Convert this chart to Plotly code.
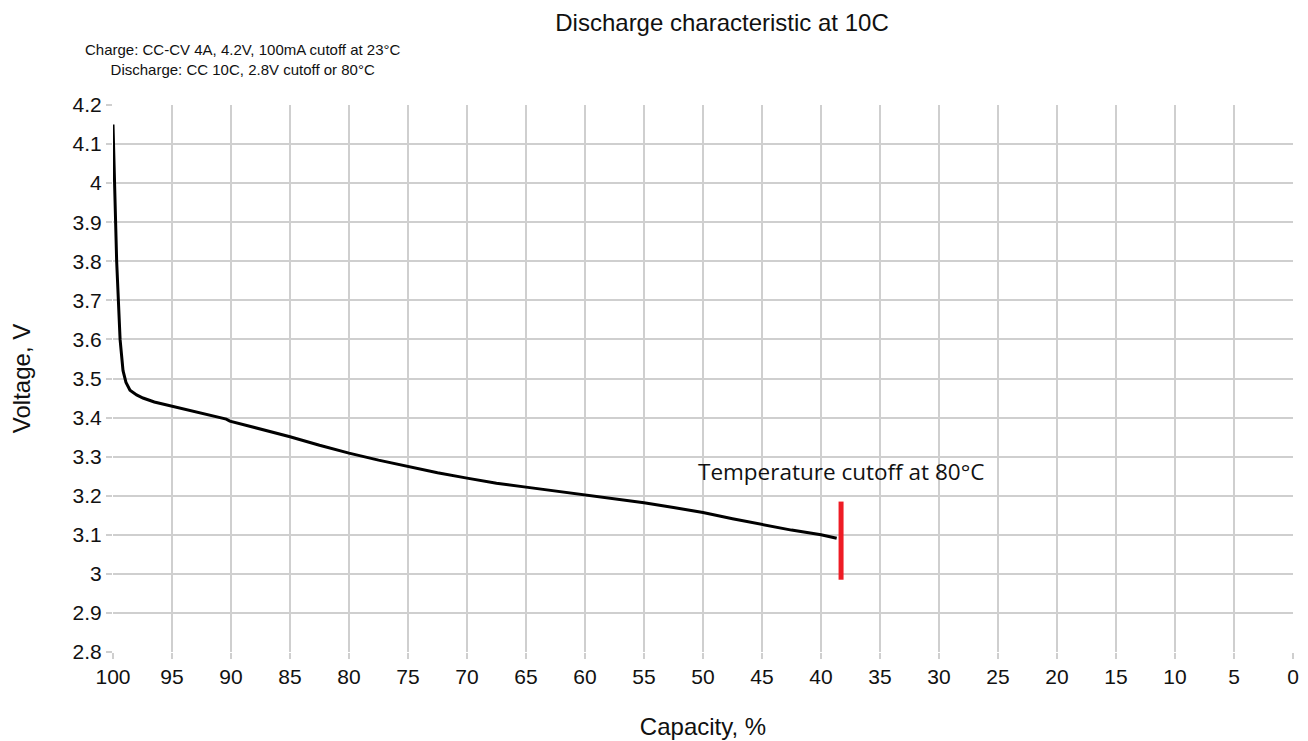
import plotly.graph_objects as go

# Discharge curve (capacity %, voltage V)
capacity = [100, 99.95, 99.83, 99.69, 99.4, 99.15, 98.9, 98.56, 98.0, 97.46, 96.5, 94.9,
            93.0, 91.2, 90.4, 90.1, 88.0, 86.0, 85.0, 82.5, 80.0, 77.5, 75.0, 72.5, 70.0,
            67.5, 65.0, 62.5, 60.0, 57.5, 55.0, 52.5, 50.0, 47.5, 45.0, 42.5, 40.0, 38.67]
voltage = [4.15, 4.10, 4.00, 3.80, 3.60, 3.52, 3.49, 3.47, 3.458, 3.45, 3.44, 3.428,
           3.415, 3.401, 3.396, 3.391, 3.375, 3.36, 3.351, 3.329, 3.309, 3.291, 3.275, 3.259, 3.245,
           3.232, 3.222, 3.212, 3.203, 3.193, 3.182, 3.170, 3.157, 3.141, 3.126, 3.112, 3.100, 3.091]

# Temperature cutoff marker
cutoff_x = [38.3, 38.3]
cutoff_v = [2.985, 3.185]
cutoff_label = "Temperature cutoff at 80°C"

title_text = "Discharge characteristic at 10C"
subtitle_lines = ["Charge: CC-CV 4A, 4.2V, 100mA cutoff at 23°C",
                  "Discharge: CC 10C, 2.8V cutoff or 80°C"]

x_ticks = list(range(0, 101, 5))
y_ticks = [round(2.8 + 0.1 * i, 1) for i in range(15)]

font_main = "Liberation Sans, Arial, sans-serif"

W, H = 1300, 733
L, R, T, B = 105, 15, 97, 89
PW, PH = W - L - R, H - T - B

fig = go.Figure()
fig.add_trace(go.Scatter(x=capacity, y=voltage, mode="lines",
                         line=dict(color="black", width=3),
                         showlegend=False, hoverinfo="skip"))
fig.add_trace(go.Scatter(x=cutoff_x, y=cutoff_v, mode="lines",
                         line=dict(color="#ee1c25", width=5),
                         showlegend=False, hoverinfo="skip"))

fig.add_annotation(x=cutoff_x[0], y=3.262, xref="x", yref="y", text=cutoff_label,
                   showarrow=False, xanchor="center", yanchor="middle",
                   font=dict(family="Open Sans, Carlito, sans-serif", size=22.5, color="#111111"))

fig.add_annotation(xref="paper", yref="paper", x=(235 - L) / PW, y=1 + (T - 52) / PH,
                   text="<br>".join(subtitle_lines), showarrow=False, align="center",
                   xanchor="center", yanchor="middle",
                   font=dict(family=font_main, size=15, color="#111111"))

fig.update_layout(
    width=W, height=H,
    margin=dict(l=L, r=R, t=T, b=B, autoexpand=False),
    paper_bgcolor="white", plot_bgcolor="white",
    title=dict(text=title_text, x=714 / W, xanchor="center", y=1 - 15 / H, yanchor="middle",
               font=dict(family=font_main, size=24, color="#111111")),
    xaxis=dict(range=[100, 0], tickvals=x_ticks, ticktext=[str(v) for v in x_ticks],
               automargin=False,
               showgrid=True, gridcolor="#cfcfcf", gridwidth=1.5,
               zeroline=False, showline=False,
               ticks="outside", ticklen=6, tickcolor="#cfcfcf", tickwidth=1.5,
               tickfont=dict(family=font_main, size=21, color="#111111"),
               title=dict(text="Capacity, %", font=dict(family=font_main, size=24, color="#111111"),
                          standoff=30)),
    yaxis=dict(range=[2.8, 4.2], tickvals=y_ticks, ticktext=[f"{v:g}" for v in y_ticks],
               automargin=False,
               showgrid=True, gridcolor="#cfcfcf", gridwidth=1.5,
               zeroline=False, showline=False,
               ticks="outside", ticklen=6, tickcolor="#cfcfcf", tickwidth=1.5,
               tickfont=dict(family=font_main, size=21, color="#111111"),
               title=dict(text="Voltage, V", font=dict(family=font_main, size=24, color="#111111"),
                          standoff=38)),
)

fig.write_html("out.html")
